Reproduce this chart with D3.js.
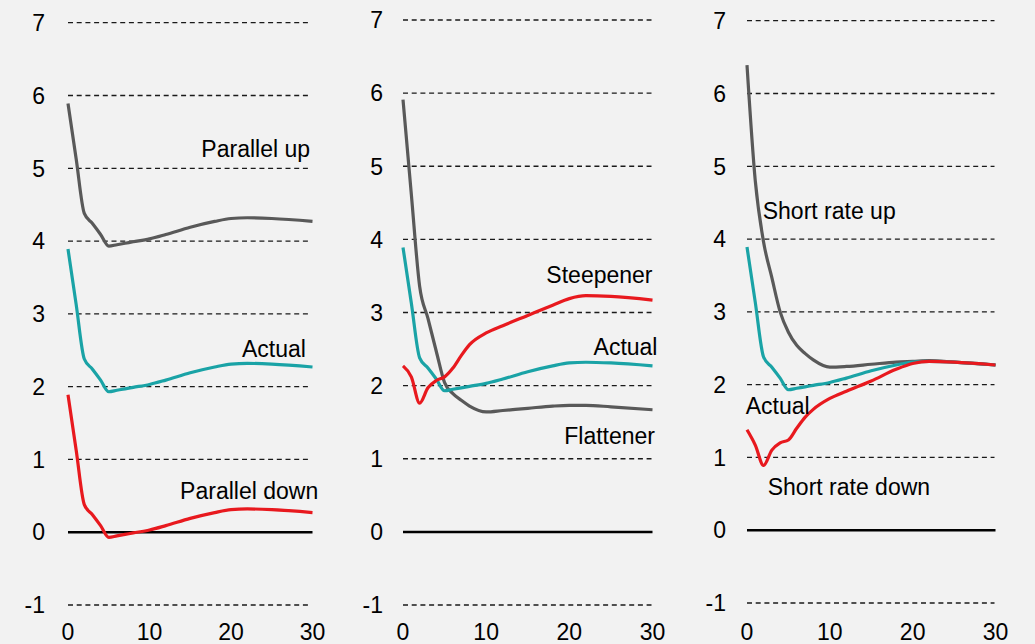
<!DOCTYPE html>
<html>
<head>
<meta charset="utf-8">
<script src="https://cdn.jsdelivr.net/npm/d3@7"></script>
<style>
  body { margin: 0; background: #f2f2f2; }
  svg { display: block; }
  text { font-family: "Liberation Sans", Arial, sans-serif; font-size: 23px; fill: #000; }
</style>
</head>
<body>
<svg id="canvas" width="1035" height="644"></svg>
<script>
// maturities (years) and yields (%)
let maturities   = [0, 1, 2, 3, 4, 5, 6, 7, 8, 10, 12, 15, 18, 20, 22, 25, 30]
let actual       = [3.89, 3.13, 2.38, 2.24, 2.09, 1.93, 1.95, 1.97, 1.99, 2.03, 2.09, 2.19, 2.27, 2.31, 2.32, 2.31, 2.27]
let parallelUp   = [5.89, 5.13, 4.38, 4.24, 4.09, 3.93, 3.95, 3.97, 3.99, 4.03, 4.09, 4.19, 4.27, 4.31, 4.32, 4.31, 4.27]
let parallelDown = [1.89, 1.13, 0.38, 0.24, 0.09, -0.07, -0.05, -0.03, -0.01, 0.03, 0.09, 0.19, 0.27, 0.31, 0.32, 0.31, 0.27]
let steepener    = [2.27, 2.12, 1.76, 1.97, 2.07, 2.12, 2.24, 2.41, 2.56, 2.72, 2.82, 2.96, 3.10, 3.19, 3.23, 3.22, 3.17]
let flattener    = [5.91, 4.62, 3.36, 2.92, 2.47, 2.04, 1.89, 1.80, 1.72, 1.64, 1.66, 1.69, 1.72, 1.73, 1.73, 1.71, 1.67]
let shortUp      = [6.39, 4.80, 3.96, 3.47, 3.00, 2.72, 2.54, 2.43, 2.34, 2.24, 2.25, 2.28, 2.31, 2.32, 2.33, 2.31, 2.27]
let shortDown    = [1.38, 1.17, 0.89, 1.10, 1.20, 1.24, 1.40, 1.55, 1.66, 1.81, 1.91, 2.05, 2.21, 2.29, 2.32, 2.31, 2.27]

let yTicks = [-1, 0, 1, 2, 3, 4, 5, 6, 7]
let xTicks = [0, 10, 20, 30]

let grey = '#595959'
let teal = '#1aa3a6'
let red = '#e8191e'

// layout of the three panels (pixels) and their series / labels
let panels = [
    {
        left: 68, right: 312.5, top: 22.7, bottom: 605, labelRight: 45,
        series: [
            { values: parallelUp, color: grey },
            { values: actual, color: teal },
            { values: parallelDown, color: red }
        ],
        labels: [
            { text: 'Parallel up', x: 29.7, y: 5.16, anchor: 'end' },
            { text: 'Actual', x: 29.2, y: 2.41, anchor: 'end' },
            { text: 'Parallel down', x: 30.7, y: 0.46, anchor: 'end' }
        ]
    },
    {
        left: 403, right: 652.5, top: 20, bottom: 605, labelRight: 383,
        series: [
            { values: flattener, color: grey },
            { values: actual, color: teal },
            { values: steepener, color: red }
        ],
        labels: [
            { text: 'Steepener', x: 30.0, y: 3.40, anchor: 'end' },
            { text: 'Actual', x: 30.6, y: 2.42, anchor: 'end' },
            { text: 'Flattener', x: 30.3, y: 1.20, anchor: 'end' }
        ]
    },
    {
        left: 747, right: 995.5, top: 20.7, bottom: 603, labelRight: 726,
        series: [
            { values: shortUp, color: grey },
            { values: actual, color: teal },
            { values: shortDown, color: red }
        ],
        labels: [
            { text: 'Short rate up', x: 1.9, y: 4.28, anchor: 'start' },
            { text: 'Actual', x: -0.15, y: 1.60, anchor: 'start' },
            { text: 'Short rate down', x: 2.5, y: 0.48, anchor: 'start' }
        ]
    }
]

let canvas = d3.select('#canvas')

canvas.append('rect')
    .attr('width', 1035)
    .attr('height', 644)
    .attr('fill', '#f2f2f2')

let drawPanel = (p) => {
    let x = d3.scaleLinear().domain([0, 30]).range([p.left, p.right])
    let y = d3.scaleLinear().domain([-1, 7]).range([p.bottom, p.top])
    let g = canvas.append('g')

    // dashed gridlines, solid zero line
    g.selectAll('line.grid')
        .data(yTicks.filter((t) => t !== 0))
        .enter()
        .append('line')
        .attr('class', 'grid')
        .attr('x1', x(0))
        .attr('x2', x(30) - 1)
        .attr('y1', (d) => y(d))
        .attr('y2', (d) => y(d))
        .attr('stroke', '#1a1a1a')
        .attr('stroke-width', 1.3)
        .attr('stroke-dasharray', '5,3.7')

    g.append('line')
        .attr('x1', x(0))
        .attr('x2', x(30))
        .attr('y1', y(0))
        .attr('y2', y(0))
        .attr('stroke', '#000')
        .attr('stroke-width', 2.5)

    // y tick labels
    g.selectAll('text.ytick')
        .data(yTicks)
        .enter()
        .append('text')
        .attr('class', 'ytick')
        .attr('x', p.labelRight)
        .attr('y', (d) => y(d))
        .attr('dy', '0.36em')
        .attr('text-anchor', 'end')
        .text((d) => d)

    // x tick labels
    g.selectAll('text.xtick')
        .data(xTicks)
        .enter()
        .append('text')
        .attr('class', 'xtick')
        .attr('x', (d) => x(d))
        .attr('y', 640)
        .attr('text-anchor', 'middle')
        .text((d) => d)

    let line = d3.line()
        .x((d, i) => x(maturities[i]))
        .y((d) => y(d))
        .curve(d3.curveMonotoneX)

    g.selectAll('path.series')
        .data(p.series)
        .enter()
        .append('path')
        .attr('class', 'series')
        .attr('d', (d) => line(d.values))
        .attr('fill', 'none')
        .attr('stroke', (d) => d.color)
        .attr('stroke-width', 3.2)
        .attr('stroke-linejoin', 'round')

    g.selectAll('text.label')
        .data(p.labels)
        .enter()
        .append('text')
        .attr('class', 'label')
        .attr('x', (d) => x(d.x))
        .attr('y', (d) => y(d.y))
        .attr('text-anchor', (d) => d.anchor)
        .text((d) => d.text)
}

panels.forEach(drawPanel)
</script>
</body>
</html>
